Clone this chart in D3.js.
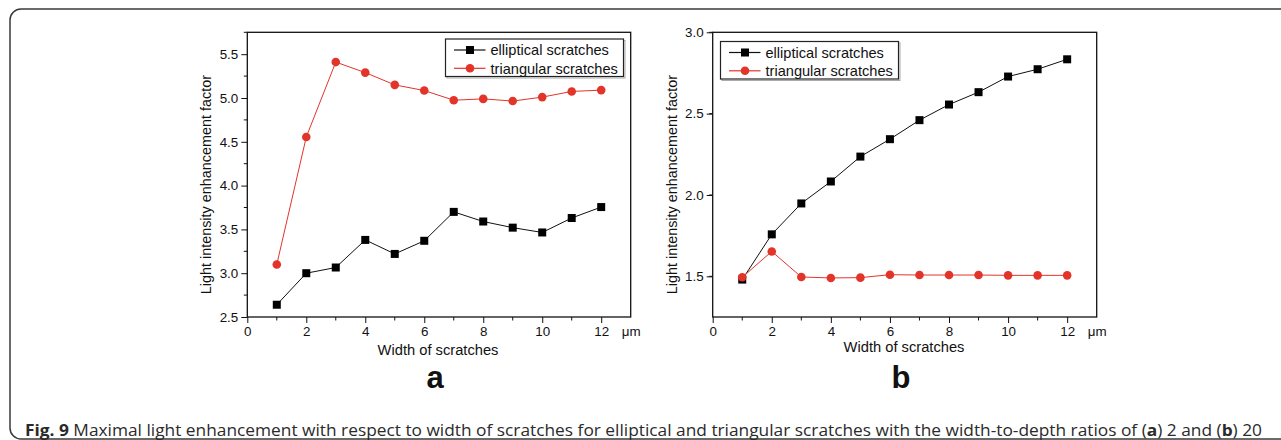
<!DOCTYPE html>
<html>
<head>
<meta charset="UTF-8">
<title>Fig. 9</title>
<style>
  body { margin: 0; background: #fff; }
  svg { display: block; }
  .axis text { font-family: 'Liberation Sans', Arial, sans-serif; font-size: 13.4px; fill: #111; }
  .lbl { font-family: 'Liberation Sans', Arial, sans-serif; fill: #111; }
</style>
</head>
<body>
<svg width="1281" height="440"></svg>
<script src="https://d3js.org/d3.v7.min.js"></script>
<script>
// data
const widths = [1, 2, 3, 4, 5, 6, 7, 8, 9, 10, 11, 12];
const ellipticalA = [2.64, 3.00, 3.065, 3.38, 3.22, 3.37, 3.70, 3.59, 3.52, 3.465, 3.63, 3.755];
const triangularA = [3.10, 4.555, 5.41, 5.29, 5.15, 5.085, 4.975, 4.99, 4.965, 5.01, 5.075, 5.09];
const ellipticalB = [1.48, 1.758, 1.948, 2.083, 2.236, 2.343, 2.46, 2.556, 2.632, 2.728, 2.773, 2.834];
const triangularB = [1.494, 1.653, 1.496, 1.49, 1.492, 1.51, 1.508, 1.508, 1.508, 1.506, 1.506, 1.506];
const xTicks = [0, 2, 4, 6, 8, 10, 12];
const yTicksA = [2.5, 3.0, 3.5, 4.0, 4.5, 5.0, 5.5];
const yTicksB = [1.5, 2.0, 2.5, 3.0];
const seriesNames = ["elliptical scratches", "triangular scratches"];

const svg = d3.select("svg");
const red = "#e3342a";

// outer frame (rounded box running off the right edge)
svg.append("rect")
  .attr("x", 10).attr("y", 9).attr("width", 1300).attr("height", 430)
  .attr("rx", 11)
  .attr("fill", "none").attr("stroke", "#3a3a3a").attr("stroke-width", 1.5);

function panel(opt) {
  let g = svg.append("g");
  let x = d3.scaleLinear().domain([0, 13]).range([opt.left, opt.right]);
  let y = d3.scaleLinear().domain(opt.yDomain).range([opt.bottom, opt.top]);

  // minor ticks
  let xMinor = d3.range(1, 13, 2);
  let yMinor = d3.range(opt.yDomain[0] + 0.25, opt.yDomain[1] + 0.01, 0.5);
  g.append("g").selectAll("line").data(xMinor).join("line")
    .attr("x1", d => x(d)).attr("x2", d => x(d))
    .attr("y1", opt.bottom).attr("y2", opt.bottom + 3.5)
    .attr("stroke", "#111");
  g.append("g").selectAll("line").data(yMinor).join("line")
    .attr("x1", opt.left - 3.5).attr("x2", opt.left)
    .attr("y1", d => y(d)).attr("y2", d => y(d))
    .attr("stroke", "#111");

  let xAxis = g.append("g").attr("class", "axis")
    .attr("transform", "translate(0," + opt.bottom + ")")
    .call(d3.axisBottom(x).tickValues(xTicks).tickSize(6).tickPadding(3).tickFormat(d3.format("d")));
  let yAxis = g.append("g").attr("class", "axis")
    .attr("transform", "translate(" + opt.left + ",0)")
    .call(d3.axisLeft(y).tickValues(opt.yTicks).tickSize(6).tickPadding(3).tickFormat(d3.format(".1f")));
  [xAxis, yAxis].forEach(a => {
    a.select(".domain").remove();
    a.selectAll("line").attr("stroke", "#111");
  });

  // plot box
  g.append("rect")
    .attr("x", opt.left).attr("y", opt.top)
    .attr("width", opt.right - opt.left).attr("height", opt.bottom - opt.top)
    .attr("fill", "none").attr("stroke", "#111").attr("stroke-width", 1.3);

  g.append("text").attr("class", "lbl")
    .attr("x", opt.right - 9).attr("y", opt.bottom + 18.5)
    .attr("font-size", 13.4).text("μm");

  g.append("text").attr("class", "lbl")
    .attr("transform", "translate(" + (opt.left - 36) + "," + ((opt.top + opt.bottom) / 2 + 10) + ") rotate(-90)")
    .attr("text-anchor", "middle").attr("font-size", 14.4)
    .text("Light intensity enhancement factor");

  g.append("text").attr("class", "lbl")
    .attr("x", opt.titleX).attr("y", opt.titleY)
    .attr("text-anchor", "middle").attr("font-size", 14.7)
    .text("Width of scratches");

  g.append("text").attr("class", "lbl")
    .attr("x", opt.titleX - 3).attr("y", 388)
    .attr("text-anchor", "middle").attr("font-size", 31).attr("font-weight", "bold")
    .text(opt.tag);

  let line = d3.line().x((d, i) => x(widths[i])).y(d => y(d));

  g.append("path").datum(opt.ell).attr("d", line)
    .attr("fill", "none").attr("stroke", "#111").attr("stroke-width", 1);
  g.append("path").datum(opt.tri).attr("d", line)
    .attr("fill", "none").attr("stroke", red).attr("stroke-width", 1);

  g.append("g").selectAll("rect").data(opt.ell).join("rect")
    .attr("x", (d, i) => x(widths[i]) - 4).attr("y", d => y(d) - 4)
    .attr("width", 8).attr("height", 8).attr("fill", "#000");
  g.append("g").selectAll("circle").data(opt.tri).join("circle")
    .attr("cx", (d, i) => x(widths[i])).attr("cy", d => y(d))
    .attr("r", 4.3).attr("fill", red);

  // legend
  let lg = g.append("g").attr("transform", "translate(" + opt.legX + "," + opt.legY + ")");
  lg.append("rect").attr("x", 1.5).attr("y", 1.5).attr("width", 178).attr("height", 37.5)
    .attr("fill", "none").attr("stroke", "#aaa").attr("stroke-width", 1);
  lg.append("rect").attr("width", 178).attr("height", 37.5)
    .attr("fill", "#fff").attr("stroke", "#222").attr("stroke-width", 1.2);
  seriesNames.forEach((name, i) => {
    let cy = 11 + i * 18.3;
    let col = i === 0 ? "#111" : red;
    lg.append("line").attr("x1", 8.5).attr("x2", 40).attr("y1", cy).attr("y2", cy)
      .attr("stroke", col).attr("stroke-width", 1.2);
    if (i === 0) {
      lg.append("rect").attr("x", 20.5).attr("y", cy - 4).attr("width", 8).attr("height", 8).attr("fill", "#000");
    } else {
      lg.append("circle").attr("cx", 24.5).attr("cy", cy).attr("r", 4.3).attr("fill", red);
    }
    lg.append("text").attr("class", "lbl")
      .attr("x", 45).attr("y", cy + 5.2).attr("font-size", 14.6)
      .text(name);
  });
}

panel({
  left: 247.3, right: 630.7, top: 32.3, bottom: 317,
  yDomain: [2.5, 5.75], yTicks: yTicksA,
  ell: ellipticalA, tri: triangularA,
  legX: 445.5, legY: 39, titleX: 438, titleY: 355, tag: "a"
});

panel({
  left: 712.7, right: 1096.7, top: 32.3, bottom: 317,
  yDomain: [1.25, 3.0], yTicks: yTicksB,
  ell: ellipticalB, tri: triangularB,
  legX: 720.5, legY: 41.5, titleX: 904, titleY: 352, tag: "b"
});

// caption
let cap = svg.append("text")
  .attr("x", 25).attr("y", 436)
  .attr("font-family", "'Open Sans', 'Noto Sans', sans-serif")
  .attr("font-size", 15.5).attr("fill", "#2a2a2a")
  .attr("textLength", 1237).attr("lengthAdjust", "spacingAndGlyphs");
cap.append("tspan").attr("font-weight", "bold").text("Fig. 9");
cap.append("tspan").text(" Maximal light enhancement with respect to width of scratches for elliptical and triangular scratches with the width-to-depth ratios of (");
cap.append("tspan").attr("font-weight", "bold").text("a");
cap.append("tspan").text(") 2 and (");
cap.append("tspan").attr("font-weight", "bold").text("b");
cap.append("tspan").text(") 20");
</script>
</body>
</html>
